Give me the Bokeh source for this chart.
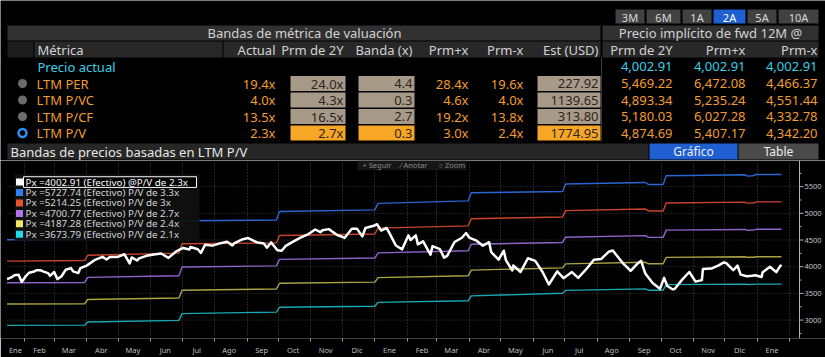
from datetime import datetime, timedelta
import pandas as pd
from bokeh.plotting import figure
from bokeh.layouts import column
from bokeh.models import Range1d, FixedTicker, CustomJSTickFormatter
from bokeh.core.properties import value
from bokeh.embed import file_html
from bokeh.resources import INLINE

# ---------------- data ----------------
periods = ["3M", "6M", "1A", "2A", "5A", "10A"]
selected_period = "2A"
metrics = ["LTM PER", "LTM P/VC", "LTM P/CF", "LTM P/V"]
selected_metric = "LTM P/V"
actual = [19.4, 4.0, 13.5, 2.3]
avg_2y = [24.0, 4.3, 16.5, 2.7]
band_x = [4.4, 0.3, 2.7, 0.3]
avg_plus = [28.4, 4.6, 19.2, 3.0]
avg_minus = [19.6, 4.0, 13.8, 2.4]
est_usd = [227.92, 1139.65, 313.80, 1774.95]
impl_avg = [5469.22, 4893.34, 5180.03, 4874.69]
impl_plus = [6472.08, 5235.24, 6027.28, 5407.17]
impl_minus = [4466.37, 4551.44, 4332.78, 4342.20]
current_price = 4002.91
current_mult = "2.3"

price_dates = [
    "2021-01-15", "2021-01-19", "2021-01-22", "2021-01-26", "2021-01-29", "2021-02-02", "2021-02-05",
    "2021-02-10",
    "2021-02-12", "2021-02-16", "2021-02-19", "2021-02-23", "2021-02-25", "2021-03-01", "2021-03-04",
    "2021-03-08", "2021-03-12", "2021-03-17", "2021-03-19", "2021-03-24", "2021-03-26", "2021-04-01",
    "2021-04-09", "2021-04-16", "2021-04-20", "2021-04-23", "2021-04-30", "2021-05-07", "2021-05-12",
    "2021-05-14", "2021-05-19", "2021-05-21", "2021-05-28", "2021-06-04", "2021-06-11", "2021-06-18",
    "2021-06-25", "2021-07-02", "2021-07-08", "2021-07-09", "2021-07-16", "2021-07-19", "2021-07-23",
    "2021-07-30", "2021-08-06", "2021-08-13", "2021-08-18", "2021-08-20", "2021-08-27", "2021-09-02",
    "2021-09-10", "2021-09-17", "2021-09-20", "2021-09-24", "2021-09-30", "2021-10-04", "2021-10-08",
    "2021-10-15", "2021-10-22", "2021-10-29", "2021-11-05", "2021-11-10", "2021-11-12", "2021-11-18",
    "2021-11-26", "2021-11-30", "2021-12-03", "2021-12-10", "2021-12-15", "2021-12-20", "2021-12-23",
    "2021-12-31", "2022-01-03", "2022-01-07", "2022-01-12", "2022-01-14", "2022-01-21", "2022-01-27",
    "2022-02-02", "2022-02-04", "2022-02-09", "2022-02-11", "2022-02-16", "2022-02-23", "2022-02-25",
    "2022-03-04", "2022-03-08", "2022-03-11", "2022-03-18", "2022-03-25", "2022-03-29", "2022-04-01",
    "2022-04-08", "2022-04-14", "2022-04-20", "2022-04-22", "2022-04-29", "2022-05-04", "2022-05-06",
    "2022-05-12", "2022-05-13", "2022-05-20", "2022-05-27", "2022-06-03", "2022-06-10", "2022-06-16",
    "2022-06-24", "2022-06-30", "2022-07-08", "2022-07-14", "2022-07-22", "2022-07-29", "2022-08-05",
    "2022-08-12", "2022-08-16", "2022-08-19", "2022-08-26", "2022-09-02", "2022-09-09", "2022-09-12",
    "2022-09-16", "2022-09-23", "2022-09-30", "2022-10-04", "2022-10-07", "2022-10-12", "2022-10-14",
    "2022-10-21", "2022-10-28", "2022-11-03", "2022-11-09", "2022-11-10", "2022-11-18", "2022-11-25",
    "2022-11-30", "2022-12-02", "2022-12-09", "2022-12-13", "2022-12-16", "2022-12-22", "2022-12-27",
    "2022-12-30", "2023-01-05", "2023-01-06", "2023-01-13", "2023-01-19", "2023-01-23", "2023-01-24",
]
price_values = [
    3768, 3799, 3841, 3849, 3714, 3826, 3887,
    3910,
    3934, 3932, 3907, 3881, 3829, 3901, 3768,
    3821, 3943, 3974, 3913, 3881, 3975, 4020,
    4129, 4185, 4135, 4180, 4181, 4233, 4063,
    4174, 4116, 4156, 4204, 4230, 4247, 4166,
    4281, 4352, 4321, 4370, 4327, 4259, 4412,
    4395, 4437, 4468, 4400, 4442, 4509, 4537,
    4459, 4433, 4358, 4455, 4308, 4300, 4391,
    4471, 4545, 4605, 4697, 4646, 4683, 4704,
    4595, 4567, 4538, 4712, 4709, 4568, 4726,
    4766, 4796, 4677, 4726, 4663, 4398, 4326,
    4589, 4500, 4587, 4419, 4475, 4225, 4385,
    4329, 4171, 4204, 4463, 4543, 4632, 4546,
    4488, 4393, 4459, 4272, 4132, 4300, 4123,
    3930, 4024, 3901, 4158, 4109, 3901, 3667,
    3912, 3785, 3899, 3790, 3962, 4130, 4145,
    4280, 4305, 4228, 4058, 3924, 4067, 4110,
    3873, 3693, 3586, 3791, 3640, 3577, 3583,
    3753, 3901, 3720, 3749, 3956, 3965, 4026,
    4080, 4072, 3934, 4019, 3852, 3822, 3829,
    3840, 3808, 3895, 3999, 3898, 4020, 4002.91,
]

band_dates = [
    "2021-01-15", "2021-03-30", "2021-04-02", "2021-06-28", "2021-07-01", "2021-09-29",
    "2021-10-02", "2022-01-01", "2022-01-04", "2022-03-31", "2022-04-03", "2022-06-29",
    "2022-07-02", "2022-09-16", "2022-09-19", "2022-10-03", "2022-10-06", "2022-12-20",
    "2022-12-22", "2022-12-28", "2022-12-31", "2023-01-24",
]
band_mults = ["3.3", "3", "2.7", "2.4", "2.1"]
band_33 = [4505, 4515, 4635, 4680, 4860, 4875, 5034, 5065, 5187, 5234, 5386, 5409,
           5549, 5578, 5540, 5540, 5705, 5722, 5700, 5705, 5727.74, 5727.74]
band_30 = [4105, 4115, 4215, 4255, 4430, 4445, 4586, 4614, 4723, 4766, 4900, 4932,
           5051, 5080, 5045, 5045, 5195, 5210, 5192, 5195, 5214.25, 5214.25]
band_27 = [3700, 3705, 3800, 3830, 3995, 4015, 4138, 4162, 4260, 4298, 4420, 4455,
           4553, 4582, 4550, 4550, 4685, 4698, 4684, 4686, 4700.77, 4700.77]
band_24 = [3300, 3305, 3385, 3415, 3560, 3583, 3690, 3711, 3796, 3830, 3936, 3979,
           4054, 4083, 4055, 4055, 4175, 4186, 4176, 4178, 4187.28, 4187.28]
band_21 = [2900, 2905, 2965, 2995, 3121, 3150, 3241, 3259, 3332, 3362, 3453, 3502,
           3556, 3585, 3560, 3560, 3665, 3674, 3668, 3669, 3673.79, 3673.79]
bands = [band_33, band_30, band_27, band_24, band_21]

y_ticks = [3000, 3500, 4000, 4500, 5000, 5500]
y_minor_ticks = [2750, 3250, 3750, 4250, 4750, 5250, 5750]
month_names = ["Ene", "Feb", "Mar", "Abr", "May", "Jun", "Jul", "Ago", "Sep", "Oct", "Nov", "Dic"]

# ---------------- style ----------------
FONT = value("Noto Sans")
ORANGE = "#f29d2e"
CYAN = "#3ccfe6"
HDR_TXT = "#d2d2d2"
TAN = "#a89a89"
BOX_ORANGE = "#f7a626"
line_colors = ["#2b66d2", "#c8452c", "#9462cc", "#aca444", "#1aa9b2"]
sq_colors = ["#ffffff", "#2f7ff0", "#e3532c", "#b172ea", "#f2e266", "#22d8ea"]

W = 825
# ---------------- top (table) ----------------
top = figure(width=W, height=160, x_range=Range1d(0, W), y_range=Range1d(160, 0),
             x_axis_location=None, y_axis_location=None, toolbar_location=None,
             output_backend="svg", min_border=0, min_border_left=0, min_border_right=0,
             min_border_top=0, min_border_bottom=0, background_fill_color="black",
             border_fill_color="black", outline_line_color=None)
top.grid.visible = False

btn_l = [615, 646, 682, 713, 747, 778]
btn_r = [644, 680, 711, 745, 776, 818]
btn_fill = ["#1f5fd2" if p == selected_period else "#424242" for p in periods]
top.quad(left=btn_l, right=btn_r, top=[9] * 6, bottom=[23] * 6, fill_color=btn_fill, line_color=None)
top.text(x=[(a + b) / 2 for a, b in zip(btn_l, btn_r)], y=[16.5] * 6, text=periods,
         text_align="center", text_baseline="middle", text_font=FONT, text_font_size="11px",
         text_color=["#ffffff" if p == selected_period else "#d8d8d8" for p in periods])

top.quad(left=[7, 602], right=[600, 818], top=[25, 25], bottom=[40, 40], fill_color="#313131", line_color=None)
top.text(x=[304, 710], y=[32.5, 32.5], text=["Bandas de métrica de valuación", "Precio implícito de fwd 12M @"],
         text_align="center", text_baseline="middle", text_font=FONT, text_font_size="13px", text_color=HDR_TXT)
top.quad(left=[7, 34, 223, 602], right=[33, 222, 600, 818], top=[41] * 4, bottom=[57] * 4,
         fill_color=["#1c1c1c", "#282828", "#282828", "#282828"], line_color=None)
top.text(x=[37], y=[49], text=["Métrica"], text_align="left", text_baseline="middle",
         text_font=FONT, text_font_size="13px", text_color=HDR_TXT)
col_right = [275, 343, 412, 468, 523, 598, 672, 745, 817]
col_names = ["Actual", "Prm de 2Y", "Banda (x)", "Prm+x", "Prm-x", "Est (USD)", "Prm de 2Y", "Prm+x", "Prm-x"]
top.text(x=col_right, y=[49] * 9, text=col_names, text_align="right", text_baseline="middle",
         text_font=FONT, text_font_size="13px", text_color=HDR_TXT)
top.segment(x0=[601], y0=[57], x1=[601], y1=[141], line_color="#3a3a3a", line_width=1)

top.text(x=[37], y=[66], text=["Precio actual"], text_align="left", text_baseline="middle",
         text_font=FONT, text_font_size="13px", text_color=CYAN)
top.text(x=col_right[6:], y=[66] * 3, text=[f"{current_price:,.2f}"] * 3, text_align="right",
         text_baseline="middle", text_font=FONT, text_font_size="13px", text_color=CYAN)

row_y = [83, 99.5, 116, 132.5]
for (l, r) in [(290, 345), (358, 414), (537, 600)]:
    top.quad(left=[l] * 4, right=[r] * 4, top=[y - 7.5 for y in row_y], bottom=[y + 7.5 for y in row_y],
             fill_color=[BOX_ORANGE if m == selected_metric else TAN for m in metrics], line_color=None)

top.scatter(x=[22] * 3, y=row_y[:3], size=9, marker="circle", fill_color="#6c6c6c", line_color=None)
top.scatter(x=[22], y=[row_y[3]], size=8, marker="circle", fill_color="black", line_color="#2f8ef2", line_width=2.5)
top.text(x=[36] * 4, y=row_y, text=metrics, text_align="left", text_baseline="middle",
         text_font=FONT, text_font_size="13px", text_color=ORANGE)

def put(col, vals, fmt, color):
    top.text(x=[col_right[col]] * 4, y=row_y, text=[fmt(v) for v in vals], text_align="right",
             text_baseline="middle", text_font=FONT, text_font_size="13px", text_color=color)

put(0, actual, lambda v: f"{v:.1f}x", ORANGE)
put(1, avg_2y, lambda v: f"{v:.1f}x", "#2b2420")
put(2, band_x, lambda v: f"{v:.1f}", "#2b2420")
put(3, avg_plus, lambda v: f"{v:.1f}x", ORANGE)
put(4, avg_minus, lambda v: f"{v:.1f}x", ORANGE)
put(5, est_usd, lambda v: f"{v:.2f}", "#2b2420")
put(6, impl_avg, lambda v: f"{v:,.2f}", ORANGE)
put(7, impl_plus, lambda v: f"{v:,.2f}", ORANGE)
put(8, impl_minus, lambda v: f"{v:,.2f}", ORANGE)

top.quad(left=[7, 649, 738], right=[648, 737, 818], top=[143] * 3, bottom=[159] * 3,
         fill_color=["#262626", "#1f5fd2", "#4a4a4a"], line_color=None)
top.text(x=[10], y=[151], text=[f"Bandas de precios basadas en {selected_metric}"], text_align="left",
         text_baseline="middle", text_font=FONT, text_font_size="13px", text_color="#e6e6e6")
top.text(x=[693, 778], y=[151, 151], text=["Gráfico", "Table"], text_align="center",
         text_baseline="middle", text_font=FONT, text_font_size="12px", text_color="#eeeeee")

# ---------------- chart ----------------
EPOCH = datetime(1970, 1, 1)
def ms(d):
    return (d - EPOCH).total_seconds() * 1000.0

PX_PER_DAY = 1.048
XA = datetime(2021, 1, 8, 18)                       # page x = 0
XB = XA + timedelta(days=W / PX_PER_DAY)            # page x = 825
Y0, Y1 = 2655, 5990
FT, FB = 160, 344
def px_x(px):
    return ms(XA) + px / W * (ms(XB) - ms(XA))
def px_y(py):
    return Y1 - (py - FT) / (FB - FT) * (Y1 - Y0)
AXIS_X = px_x(799)
X_START = px_x(7)

ch = figure(width=W, height=197, x_axis_type="datetime", x_range=Range1d(XA, XB),
            y_range=Range1d(Y0, Y1), y_axis_location=None, toolbar_location=None,
            output_backend="svg", min_border=0, min_border_left=0, min_border_right=0,
            min_border_top=0, min_border_bottom=13, background_fill_color="black",
            border_fill_color="black", outline_line_color=None)

month_starts = [ms(d.to_pydatetime()) for d in pd.date_range("2021-02-01", "2023-02-01", freq="MS")]
mid_months = [ms(datetime(2021, 1, 23))] + [ms(d.to_pydatetime() + pd.Timedelta(days=14))
                                            for d in pd.date_range("2021-02-01", "2023-01-01", freq="MS")]
xax = ch.xaxis[0]
xax.ticker = FixedTicker(ticks=mid_months, minor_ticks=month_starts)
xax.formatter = CustomJSTickFormatter(args=dict(names=month_names),
                                      code="return names[new Date(tick).getUTCMonth()];")
xax.major_tick_line_color = None
xax.major_tick_out = 0
xax.major_tick_in = 0
xax.minor_tick_out = 3
xax.minor_tick_in = 0
xax.minor_tick_line_color = "#9a9a9a"
xax.axis_line_color = None
xax.major_label_standoff = 3
xax.major_label_text_font = "Noto Sans"
xax.major_label_text_font_size = "7.5px"
xax.major_label_text_color = "#bdbdbd"

ch.xgrid.ticker = FixedTicker(ticks=month_starts)
ch.xgrid.grid_line_color = "#4a4a4a"
ch.xgrid.grid_line_dash = "1 2"
ch.ygrid.visible = False

ch.segment(x0=[X_START] * len(y_ticks), y0=y_ticks, x1=[AXIS_X] * len(y_ticks), y1=y_ticks,
           line_color="#3c3c3c", line_dash="1 2", line_width=1)

bd = pd.to_datetime(band_dates)
for vals, col in zip(bands, line_colors):
    ch.line(bd, vals, line_color=col, line_width=1.4)
ch.line(pd.to_datetime(price_dates), price_values, line_color="white", line_width=2.5, line_join="round")

ch.segment(x0=[AXIS_X], y0=[Y0], x1=[AXIS_X], y1=[Y1], line_color="#b0b0b0", line_width=1)
ch.segment(x0=[AXIS_X] * len(y_ticks), y0=y_ticks, x1=[px_x(803)] * len(y_ticks), y1=y_ticks,
           line_color="#b0b0b0", line_width=1)
ch.segment(x0=[AXIS_X] * len(y_minor_ticks), y0=y_minor_ticks, x1=[px_x(801)] * len(y_minor_ticks),
           y1=y_minor_ticks, line_color="#b0b0b0", line_width=1)
ch.text(x=[px_x(804)] * len(y_ticks), y=y_ticks, text=[str(t) for t in y_ticks], text_align="left",
        text_baseline="middle", text_font=FONT, text_font_size="7.5px", text_color="#c4c4c4")

ch.quad(left=[px_x(357)], right=[px_x(466)], top=[px_y(160)], bottom=[px_y(170)],
        fill_color="#161616", line_color=None)
ch.text(x=[px_x(362), px_x(400), px_x(438)], y=[px_y(165)] * 3,
        text=["+ Seguir", "⁄ Anotar", "○ Zoom"], text_align="left", text_baseline="middle",
        text_font=FONT, text_font_size="7.5px", text_color="#8a8a8a")

leg_top, leg_step = 182.3, 10.8
ch.quad(left=[px_x(14)], right=[px_x(199)], top=[px_y(174)], bottom=[px_y(243)],
        fill_color="#101010", fill_alpha=0.92, line_color=None)
ch.quad(left=[px_x(23)], right=[px_x(196)], top=[px_y(176.8)], bottom=[px_y(187.8)],
        fill_color="black", line_color="white", line_width=1)
labels = [f"Px ={current_price:.2f} (Efectivo) @P/V de {current_mult}x"] + \
         [f"Px ={b[-1]:.2f} (Efectivo) P/V de {m}x" for b, m in zip(bands, band_mults)]
ly = [px_y(leg_top + i * leg_step) for i in range(6)]
ch.scatter(x=[px_x(19)] * 6, y=ly, marker="square", size=7, fill_color=sq_colors, line_color=None)
ch.text(x=[px_x(25)] * 6, y=ly, text=labels, text_align="left", text_baseline="middle",
        text_font=FONT, text_font_size="9.8px",
        text_color=["#ffffff"] + ["#d4d4d4"] * 5)

layout = column(top, ch, spacing=0)
open("out.html", "w").write(file_html(layout, INLINE))
